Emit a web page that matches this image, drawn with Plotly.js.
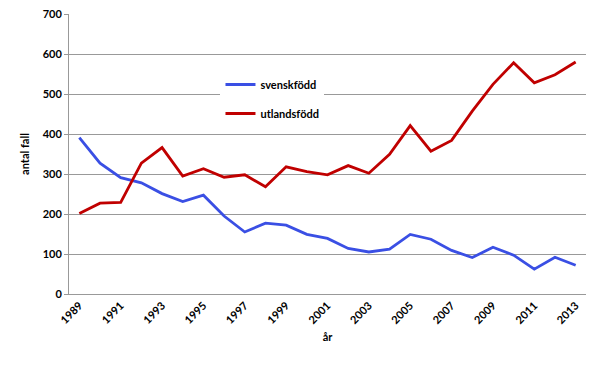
<!DOCTYPE html>
<html>
<head>
<meta charset="utf-8">
<script src="https://cdn.plot.ly/plotly-3.0.1.min.js"></script>
<style>html,body{margin:0;padding:0;background:#fff;}#chart{width:600px;height:369px;}</style>
</head>
<body>
<div id="chart"></div>
<script>
const years = [1989,1990,1991,1992,1993,1994,1995,1996,1997,1998,1999,2000,2001,2002,2003,2004,2005,2006,2007,2008,2009,2010,2011,2012,2013];
const svenskfodd = [391,327,291,278,251,231,247,195,155,177,172,149,139,114,105,112,149,137,109,91,117,97,62,92,72];
const utlandsfodd = [201,227,229,327,366,295,313,292,298,268,318,306,298,321,302,349,421,357,384,457,524,578,528,548,580];
const tickYears = [1989,1991,1993,1995,1997,1999,2001,2003,2005,2007,2009,2011,2013];
const yTicks = [0,100,200,300,400,500,600,700];

const font = {family: 'Lato, "Open Sans", sans-serif', size: 11, color: '#000'};

const traces = [
  {x: years, y: svenskfodd, name: 'svenskfödd', type: 'scatter', mode: 'lines',
   line: {color: '#3a4fe4', width: 2.8}, legendgroup: 'a'},
  {x: years, y: utlandsfodd, name: 'utlandsfödd', type: 'scatter', mode: 'lines',
   line: {color: '#c00000', width: 2.8}, legendgroup: 'b'}
];

const layout = {
  width: 600, height: 369,
  margin: {l: 69, r: 14, t: 14, b: 75},
  paper_bgcolor: '#fff', plot_bgcolor: '#fff',
  font: font,
  showlegend: true,
  legend: {x: 0.293, y: 0.80, xanchor: 'left', yanchor: 'top', bgcolor: '#fff',
    font: {family: 'Lato, "Open Sans", sans-serif', size: 11, color: '#000', weight: 'bold'},
    traceorder: 'grouped', tracegroupgap: 10, itemwidth: 30},
  xaxis: {
    range: [1988.5, 2013.5], tickvals: tickYears, ticktext: tickYears.map(String),
    tickangle: -45, showgrid: false, zeroline: false,
    showline: true, linecolor: '#999', linewidth: 1, ticks: '',
    tickfont: {family: 'Lato, "Open Sans", sans-serif', size: 11, color: '#000', weight: 'bold'},
    title: {text: 'år', font: {family: 'Lato, "Open Sans", sans-serif', size: 11, color: '#000', weight: 'bold'}, standoff: 8}
  },
  yaxis: {
    range: [0, 700], tickvals: yTicks, showgrid: true, gridcolor: '#999', gridwidth: 1,
    zeroline: false, showline: true, linecolor: '#999', linewidth: 1,
    ticks: 'outside', ticklen: 4, tickcolor: '#999',
    tickfont: {family: 'Lato, "Open Sans", sans-serif', size: 11, color: '#000', weight: 'bold'},
    title: {text: 'antal fall', font: {family: 'Lato, "Open Sans", sans-serif', size: 11, color: '#000', weight: 'bold'}, standoff: 10}
  }
};

Plotly.newPlot('chart', traces, layout, {staticPlot: true, displayModeBar: false});
</script>
</body>
</html>
